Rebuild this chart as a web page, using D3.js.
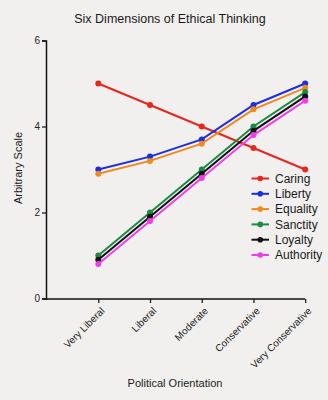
<!DOCTYPE html>
<html>
<head>
<meta charset="utf-8">
<script src="https://cdn.jsdelivr.net/npm/d3@7"></script>
<style>
  html, body { margin: 0; padding: 0; background: #f1f0ee; }
  svg { display: block; font-family: "Liberation Sans", Arial, sans-serif; }
</style>
</head>
<body>
<svg id="chart" width="328" height="400"></svg>
<script>
// Categories along the x axis
const categories = ["Very Liberal", "Liberal", "Moderate", "Conservative", "Very Conservative"];

// Series values (arbitrary scale)
const caring    = [5.0, 4.5, 4.0, 3.5, 3.0];
const liberty   = [3.0, 3.3, 3.7, 4.5, 5.0];
const equality  = [2.9, 3.2, 3.6, 4.4, 4.9];
const sanctity  = [1.0, 2.0, 3.0, 4.0, 4.8];
const loyalty   = [0.9, 1.9, 2.9, 3.9, 4.7];
const authority = [0.8, 1.8, 2.8, 3.8, 4.6];

const seriesNames  = ["Caring", "Liberty", "Equality", "Sanctity", "Loyalty", "Authority"];
const seriesValues = [caring, liberty, equality, sanctity, loyalty, authority];
const seriesColors = ["#e8261c", "#1b2ee6", "#f08a1c", "#1c8a44", "#111111", "#ee3ee8"];

const yTicks = [0, 2, 4, 6];

const svg = d3.select("#chart");

// Scales
const x = d3.scalePoint().domain(categories).range([98.3, 305.2]);
const y = d3.scaleLinear().domain([0, 6]).range([298.5, 40.5]);

// Title
svg.append("text")
  .attr("x", 170).attr("y", 22.5)
  .attr("text-anchor", "middle")
  .attr("font-size", 12.5)
  .attr("fill", "#1a1a1a")
  .text("Six Dimensions of Ethical Thinking");

// Y axis
const yAxis = svg.append("g")
  .attr("transform", "translate(46,0)")
  .call(d3.axisLeft(y).tickValues(yTicks).tickSize(4).tickPadding(2).tickFormat(d3.format("d")));
yAxis.select(".domain").attr("stroke", "#111").attr("stroke-width", 1.5);
yAxis.selectAll(".tick line").attr("stroke", "#111").attr("stroke-width", 1.2);
yAxis.selectAll(".tick text").attr("font-size", 10).attr("fill", "#222")
  .attr("font-family", "Liberation Sans, Arial, sans-serif");

// X axis
const xAxis = svg.append("g")
  .attr("transform", "translate(0,299)")
  .call(d3.axisBottom(x).tickSize(4).tickSizeOuter(0).tickPadding(3));
xAxis.select(".domain").attr("d", "M46,0H305.2").attr("stroke", "#111").attr("stroke-width", 1.5);
xAxis.selectAll(".tick line").attr("stroke", "#111").attr("stroke-width", 1.2);
xAxis.selectAll(".tick text")
  .attr("font-size", 10).attr("fill", "#222")
  .attr("font-family", "Liberation Sans, Arial, sans-serif")
  .attr("text-anchor", "end")
  .attr("dy", null)
  .attr("transform", "translate(6.5,12.5) rotate(-45)")
  .attr("y", 0).attr("x", 0);

// Axis titles
svg.append("text")
  .attr("transform", "translate(21.5,168) rotate(-90)")
  .attr("text-anchor", "middle")
  .attr("font-size", 11)
  .attr("fill", "#1a1a1a")
  .text("Arbitrary Scale");

svg.append("text")
  .attr("x", 175).attr("y", 387)
  .attr("text-anchor", "middle")
  .attr("font-size", 11)
  .attr("fill", "#1a1a1a")
  .text("Political Orientation");

// Lines and points
const line = d3.line().x((d, i) => x(categories[i])).y(d => y(d));

seriesValues.forEach((vals, k) => {
  const g = svg.append("g");
  g.append("path")
    .datum(vals)
    .attr("d", line)
    .attr("fill", "none")
    .attr("stroke", seriesColors[k])
    .attr("stroke-width", 2);
  g.selectAll("circle")
    .data(vals)
    .join("circle")
    .attr("cx", (d, i) => x(categories[i]))
    .attr("cy", d => y(d))
    .attr("r", 3)
    .attr("fill", seriesColors[k]);
});

// Legend
const legend = svg.append("g").attr("transform", "translate(251.5,178.5)");
seriesNames.forEach((name, k) => {
  const row = legend.append("g").attr("transform", `translate(0,${k * 15.3})`);
  row.append("line")
    .attr("x1", 0).attr("x2", 17.5)
    .attr("stroke", seriesColors[k]).attr("stroke-width", 2);
  row.append("circle").attr("cx", 8.75).attr("cy", 0).attr("r", 2.8).attr("fill", seriesColors[k]);
  row.append("text")
    .attr("x", 23.5).attr("y", 4.3)
    .attr("font-size", 12)
    .attr("fill", "#1a1a1a")
    .text(name);
});
</script>
</body>
</html>
